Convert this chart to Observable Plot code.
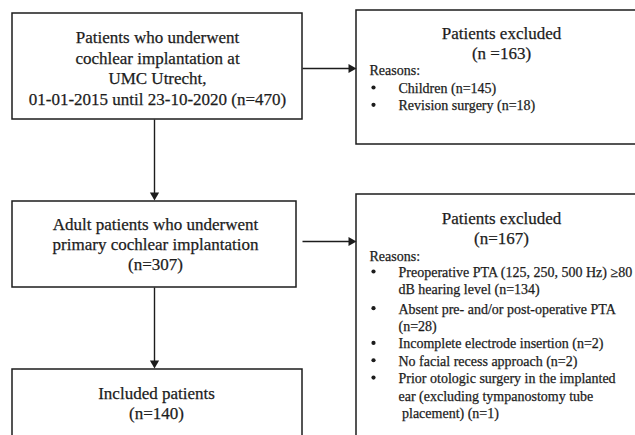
<!DOCTYPE html>
<html><head><meta charset="utf-8">
<script src="https://cdn.jsdelivr.net/npm/d3@7"></script>
<script src="https://cdn.jsdelivr.net/npm/@observablehq/plot@0.6"></script>
<style>body{margin:0;background:#fff} svg{display:block} #chart svg, #chart svg text{font-family:"Liberation Serif", serif !important;}</style>
</head><body><div id="chart"></div>
<script>
// ---- data (flowchart content) ----
const stageLabels = [
  "Patients who underwent\ncochlear implantation at\nUMC Utrecht,\n01-01-2015 until 23-10-2020 (n=470)",
  "Adult patients who underwent\nprimary cochlear implantation\n(n=307)",
  "Included patients\n(n=140)"
];
const excludedLabels = ["Patients excluded\n(n =163)", "Patients excluded\n(n=167)"];
const reasonsHeader = "Reasons:";
const reasons1 = ["Children (n=145)", "Revision surgery (n=18)"];
const reasons2 = [
  "Preoperative PTA (125, 250, 500 Hz) \u226580\ndB hearing level (n=134)",
  "Absent pre- and/or post-operative PTA\n(n=28)",
  "Incomplete electrode insertion (n=2)",
  "No facial recess approach (n=2)",
  "Prior otologic surgery in the implanted\near (excluding tympanostomy tube\n\u00a0placement) (n=1)"
];

// ---- layout (diagram coordinates) ----
const W = 635, H = 435;
const boxes = [
  {x1: 12, x2: 302, y1: 13, y2: 119},
  {x1: 12, x2: 296, y1: 201, y2: 287},
  {x1: 12, x2: 302, y1: 369, y2: 460},
  {x1: 356, x2: 660, y1: 10, y2: 144},
  {x1: 356, x2: 660, y1: 194, y2: 460}
];
const arrows = [
  {x1: 154, y1: 119, x2: 154, y2: 200},
  {x1: 154, y1: 287, x2: 154, y2: 368},
  {x1: 302, y1: 68, x2: 356, y2: 68},
  {x1: 302, y1: 241, x2: 356, y2: 241}
];
const stagePos = [{x: 157, y: 67}, {x: 155, y: 243}, {x: 156, y: 402}];
const excludedPos = [{x: 501, y: 42.5}, {x: 501, y: 227}];
const headerPos = [{x: 369, y: 70}, {x: 369, y: 256}];
const listStart = [87, 271];
const bulletX = 373, itemX = 398, lh = 17.35;

const stages = stageLabels.map((t, i) => ({text: t, ...stagePos[i]}));
const excluded = excludedLabels.map((t, i) => ({text: t, ...excludedPos[i]}));
const headers = headerPos.map(p => ({text: reasonsHeader, ...p}));
const items = [], bullets = [];
[reasons1, reasons2].forEach((list, k) => {
  let y = listStart[k];
  list.forEach((r, j) => {
    const n = r.split("\n").length;
    items.push({text: r, x: itemX, y: y + (n - 1) / 2 * lh});
    bullets.push({x: bulletX, y});
    y += n * lh + (k === 1 && j === 0 ? 2 : 0);
  });
});
const headLen = 8, tipOff = headLen * 2 / 3;
const heads = arrows.map(a => {
  const dx = Math.sign(a.x2 - a.x1), dy = Math.sign(a.y2 - a.y1);
  return {x: a.x2 - dx * tipOff, y: a.y2 - dy * tipOff, rotate: dx > 0 ? 90 : 180};
});
const lines = arrows.map(a => ({...a, x2: a.x2 - Math.sign(a.x2 - a.x1) * 4, y2: a.y2 - Math.sign(a.y2 - a.y1) * 4}));

const ink = "#1c1c1c";
const font = "Liberation Serif";
const rTri = (headLen / 3) / Math.sqrt(Math.PI / (3 * Math.sqrt(3)));
const T = {fontFamily: font, fill: ink, stroke: ink, strokeWidth: 0.25};

const chart = Plot.plot({
  width: W, height: H,
  margin: 0,
  x: {domain: [0, W], range: [0, W], axis: null},
  y: {domain: [0, H], range: [0, H], axis: null},
  style: {fontFamily: font, background: "white", color: ink},
  marks: [
    Plot.rect(boxes, {x1: "x1", x2: "x2", y1: "y1", y2: "y2", fill: "white", stroke: ink, strokeWidth: 1.5}),
    Plot.link(lines, {x1: "x1", y1: "y1", x2: "x2", y2: "y2", stroke: ink, strokeWidth: 1.4}),
    Plot.dot(heads, {x: "x", y: "y", symbol: "triangle", r: rTri, rotate: "rotate", fill: ink}),
    Plot.dot(bullets, {x: "x", y: "y", r: 2.1, fill: ink}),
    Plot.text(stages, {...T, x: "x", y: "y", text: "text", fontSize: 17, lineHeight: 1.2, textAnchor: "middle"}),
    Plot.text(excluded, {...T, x: "x", y: "y", text: "text", fontSize: 17, lineHeight: 1.16, textAnchor: "middle"}),
    Plot.text(headers, {...T, x: "x", y: "y", text: "text", fontSize: 14, textAnchor: "start"}),
    Plot.text(items, {...T, x: "x", y: "y", text: "text", fontSize: 14, lineHeight: lh / 14, textAnchor: "start"})
  ]
});
document.getElementById("chart").appendChild(chart);
</script>
</body></html>
